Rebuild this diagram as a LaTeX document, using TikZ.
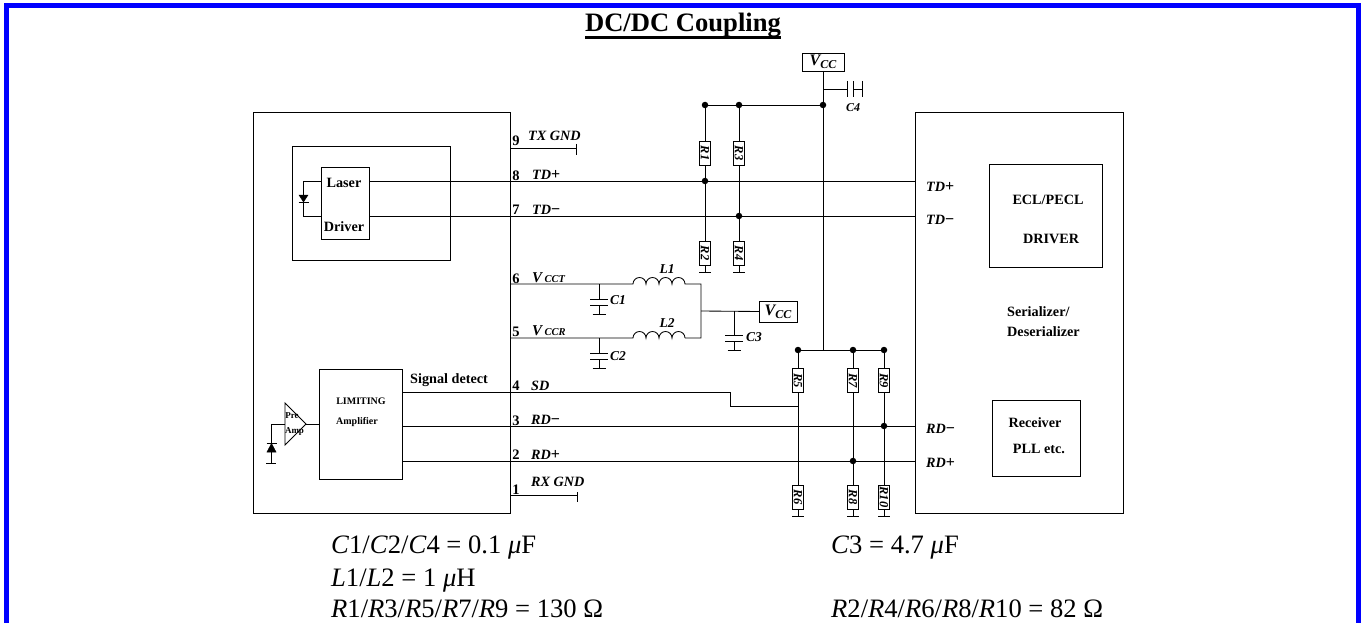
\documentclass[tikz,border=0pt]{standalone}
\usepackage{fontspec}
\setmainfont{Liberation Serif}
\usetikzlibrary{calc}
\newcommand{\fs}[1]{\fontsize{#1}{#1}\selectfont}
\newcommand{\plusb}{\textup{\fs{16}\textbf{+}}}
\newcommand{\minusb}{\textup{\fs{16}\textbf{−}}}
\newcommand{\vsub}[1]{{\fs{15}V}\,{\fs{10.5}#1}}
\newcommand{\vccb}{{\fs{16}V}\raisebox{-3pt}{\fs{12}CC}}
\newcommand{\ultext}[1]{{\setbox0\hbox{#1}\rlap{\rule[-7pt]{\wd0}{3pt}}\box0}}
\tikzset{
  wire/.style={draw=black,line width=.85pt},
  box/.style={draw=black,line width=.85pt,fill=none,inner sep=0pt,outer sep=0pt},
  dot/.style={circle,fill=black,inner sep=0pt,minimum size=6.5pt},
  res/.style={draw=black,line width=.85pt,rotate=-90,minimum width=24pt,minimum height=11pt,inner sep=0pt,outer sep=0pt,font=\fs{12.5}\bfseries\itshape,fill=white},
  txt/.style={inner sep=0pt,font=\fs{14.2}\bfseries},
  lbl/.style={txt,anchor=west},
  sig/.style={inner sep=0pt,anchor=west,font=\fs{14.2}\bfseries\itshape},
  part/.style={inner sep=0pt,font=\fs{13.5}\bfseries\itshape},
  val/.style={inner sep=0pt,anchor=base west,font=\fs{26.6}},
  diode/.style={fill=black,draw=black,line width=.5pt}
}
\newcommand{\rectbox}[5]{\node[box,minimum width=#4pt-#2pt,minimum height=#5pt-#3pt,anchor=north west] (#1) at (#2,#3) {};}
\begin{document}
\begin{tikzpicture}[x=1pt,y=-1pt]
\useasboundingbox (0,0) rectangle (1365,623);
% border
\fill[blue] (4,3) rectangle (1361,8);
\fill[blue] (4,3) rectangle (9,623);
\fill[blue] (1356,3) rectangle (1361,623);
\node[inner sep=0pt,anchor=base,font=\fs{26.6}\bfseries] (title) at (683,32) {\ultext{DC/DC Coupling}};
% main boxes
\rectbox{tx}{253}{112}{510}{513}
\rectbox{inner}{292}{146}{450}{260}
\rectbox{ld}{321}{167}{369}{239}
\rectbox{lim}{319}{369}{402}{479}
\rectbox{ser}{915}{112}{1123}{513}
\rectbox{ecl}{989}{164}{1102}{267}
\rectbox{rcv}{992}{400}{1080}{476}
\node[box,minimum width=42pt,minimum height=18pt,anchor=north west,font=\bfseries\itshape] (vcct) at (802,53) {\vccb};
\node[box,minimum width=38pt,minimum height=21pt,anchor=north west,font=\bfseries\itshape] (vccr) at (759,301) {\vccb};
% texts in boxes
\node[txt] (tlaser) at (344,183) {Laser};
\node[txt] (tdriver) at (344,227) {Driver};
\node[inner sep=0pt,font=\fs{10}\bfseries] (tlim) at (361,401) {LIMITING};
\node[inner sep=0pt,font=\fs{10}\bfseries] (tamp) at (357,422) {Amplifier};
\node[lbl] (tsd) at (410,380) {Signal detect};
\node[txt] (tecl) at (1048,200) {ECL/PECL};
\node[txt] (tdrv) at (1051,239) {DRIVER};
\node[lbl] (tser) at (1007,312) {Serializer/};
\node[lbl] (tdes) at (1007,332) {Deserializer};
\node[txt] (trcv) at (1035,423) {Receiver};
\node[txt] (tpll) at (1039,449) {PLL etc.};
% pin numbers
\foreach \n/\yy in {9/141,8/176,7/210,6/279,5/332,4/386,3/421,2/455,1/490}
  \node[inner sep=0pt,font=\fs{14.5}\bfseries] (p\n) at (516,\yy) {\n};
% signal labels
\node[sig] (l9) at (528,136) {TX GND};
\node[sig] (l8) at (532,175) {TD\plusb};
\node[sig] (l7) at (532,210) {TD\minusb};
\node[sig] (l6) at (532,278) {\vsub{CCT}};
\node[sig] (l5) at (532,331) {\vsub{CCR}};
\node[sig] (l4) at (531,386) {SD};
\node[sig] (l3) at (531,420) {RD\minusb};
\node[sig] (l2) at (531,455) {RD\plusb};
\node[sig] (l1) at (531,482) {RX GND};
\node[sig] (r8) at (926,187) {TD\plusb};
\node[sig] (r7) at (926,220) {TD\minusb};
\node[sig] (r3) at (926,429) {RD\minusb};
\node[sig] (r2) at (926,463) {RD\plusb};
% laser diode
\coordinate (dA) at (321,181); \coordinate (dB) at (321,216);
\draw[wire] (dA) -- (303,181) -- (303,216) -- (dB);
\draw[diode] (299,195) -- (308,195) -- (303.5,202) -- cycle;
\draw[wire] (298.5,202.5) -- (308.5,202.5);
% TX lines
\coordinate (txg) at (510,148); \coordinate (txgE) at (576,148);
\draw[wire] (txg) -- (txgE); \draw[wire] (576,144) -- (576,155);
\coordinate (rxg) at (510,495); \coordinate (rxgE) at (577,495);
\draw[wire] (rxg) -- (rxgE); \draw[wire] (577,492) -- (577,502);
\coordinate (ldp) at (369,181); \coordinate (ldm) at (369,216);
\coordinate (sp) at (915,181); \coordinate (sm) at (915,216);
\draw[wire] (ldp) -- (sp);
\draw[wire] (ldm) -- (sm);
\draw[wire] (402,392) -- (730,392) -- (730,406) -- (798,406);
\draw[wire] (402,426) -- (915,426);
\draw[wire] (402,461) -- (915,461);
% preamp
\node[inner sep=0pt,font=\fs{9}\bfseries] (tpre) at (292,416) {Pre};
\node[inner sep=0pt,font=\fs{9}\bfseries] (tamp2) at (294.5,431) {Amp};
\draw[wire] (285,403) -- (306,424) -- (285,445) -- cycle;
\draw[wire] (306,424) -- (319,424);
\draw[wire] (285,424) -- (271,424) -- (271,463);
\draw[wire] (266,463.5) -- (276,463.5);
\draw[diode] (267,452) -- (276,452) -- (271.5,443.5) -- cycle;
\draw[wire] (266.5,443) -- (276.5,443);
% power network
\coordinate (vl) at (510,284); \coordinate (vr) at (510,338);
\newcommand{\coil}[1]{-- (633,#1) arc[start angle=180,end angle=0,radius=6.5pt] arc[start angle=180,end angle=0,radius=6.5pt] arc[start angle=180,end angle=0,radius=6.5pt] arc[start angle=180,end angle=0,radius=6.5pt]}
\draw[wire] (vl) \coil{284} -- (701,284) -- (701,338) -- (685,338);
\draw[wire] (vr) \coil{338};
\node[part] (tl1) at (667,269) {L1};
\node[part] (tl2) at (667,323) {L2};
\draw[wire] (701,311) -- (vccr.west);
% capacitors
\newcommand{\capv}[5]{% x, ytop, plate1, plate2, gnd
  \draw[wire] (#1,#2) -- (#1,#3);
  \draw[wire] (#1-9,#3) -- (#1+9,#3);
  \draw[wire] (#1-9,#4) -- (#1+9,#4);
  \draw[wire] (#1,#4) -- (#1,#5);
  \draw[wire] (#1-6.5,#5) -- (#1+6.5,#5);}
\capv{599}{284}{299}{305}{314}
\capv{599}{338}{353}{359}{368}
\capv{734}{311}{335}{341}{350}
\node[part,anchor=west] (tc1) at (610,300) {C1};
\node[part,anchor=west] (tc2) at (610,356) {C2};
\node[part,anchor=west] (tc3) at (746,337) {C3};
% VCC trunk
\coordinate (j1) at (823,105); \coordinate (j2) at (823,350);
\draw[wire] (vcct.south) -- (j2);
\draw[wire] (823,89) -- (847,89);
\draw[wire] (847,81) -- (847,97);
\draw[wire] (853,81) -- (853,97);
\draw[wire] (853,89) -- (862,89);
\draw[wire] (862,81) -- (862,97);
\node[inner sep=0pt,font=\fs{12}\bfseries\itshape] (tc4) at (853,108) {C4};
% resistors
\node[res] (R1) at (705,153) {R1};
\node[res] (R3) at (739,153) {R3};
\node[res] (R2) at (705,253) {R2};
\node[res] (R4) at (739,253) {R4};
\node[res] (R5) at (798,380.5) {R5};
\node[res] (R7) at (853,380.5) {R7};
\node[res] (R9) at (884,380.5) {R9};
\node[res] (R6) at (798,497) {R6};
\node[res] (R8) at (853,497) {R8};
\node[res] (R10) at (884,497) {R10};
\coordinate (t1) at (705,105); \coordinate (t3) at (739,105);
\coordinate (t5) at (798,350); \coordinate (t7) at (853,350); \coordinate (t9) at (884,350);
\draw[wire] (t1) -- (j1);
\draw[wire] (t5) -- (t9);
\foreach \a/\b/\c in {t1/R1/R2,t3/R3/R4,t5/R5/R6,t7/R7/R8,t9/R9/R10}{
  \draw[wire] (\a) -- (\b.west);
  \draw[wire] (\b.east) -- (\c.west);
  \draw[wire] (\c.east) -- ++(0,7);
  \draw[wire] ($(\c.east)+(-6,7)$) -- ($(\c.east)+(6,7)$);
}
\foreach \p in {t1,t3,j1,t5,t7,t9}
  \node[dot] at (\p) {};
\node[dot] (d1) at (705,181) {};
\node[dot] (d2) at (739,216) {};
\node[dot] (d3) at (884,426) {};
\node[dot] (d4) at (853,461) {};
\node[val] (v1) at (331,553) {\textit{C}1/\textit{C}2/\textit{C}4 = 0.1 \textit{μ}F};
\node[val] (v2) at (331,586) {\textit{L}1/\textit{L}2 = 1 \textit{μ}H};
\node[val] (v3) at (331,617) {\textit{R}1/\textit{R}3/\textit{R}5/\textit{R}7/\textit{R}9 = 130 Ω};
\node[val] (v4) at (831,553) {\textit{C}3 = 4.7 \textit{μ}F};
\node[val] (v5) at (831,617) {\textit{R}2/\textit{R}4/\textit{R}6/\textit{R}8/\textit{R}10 = 82 Ω};
\end{tikzpicture}
\end{document}
